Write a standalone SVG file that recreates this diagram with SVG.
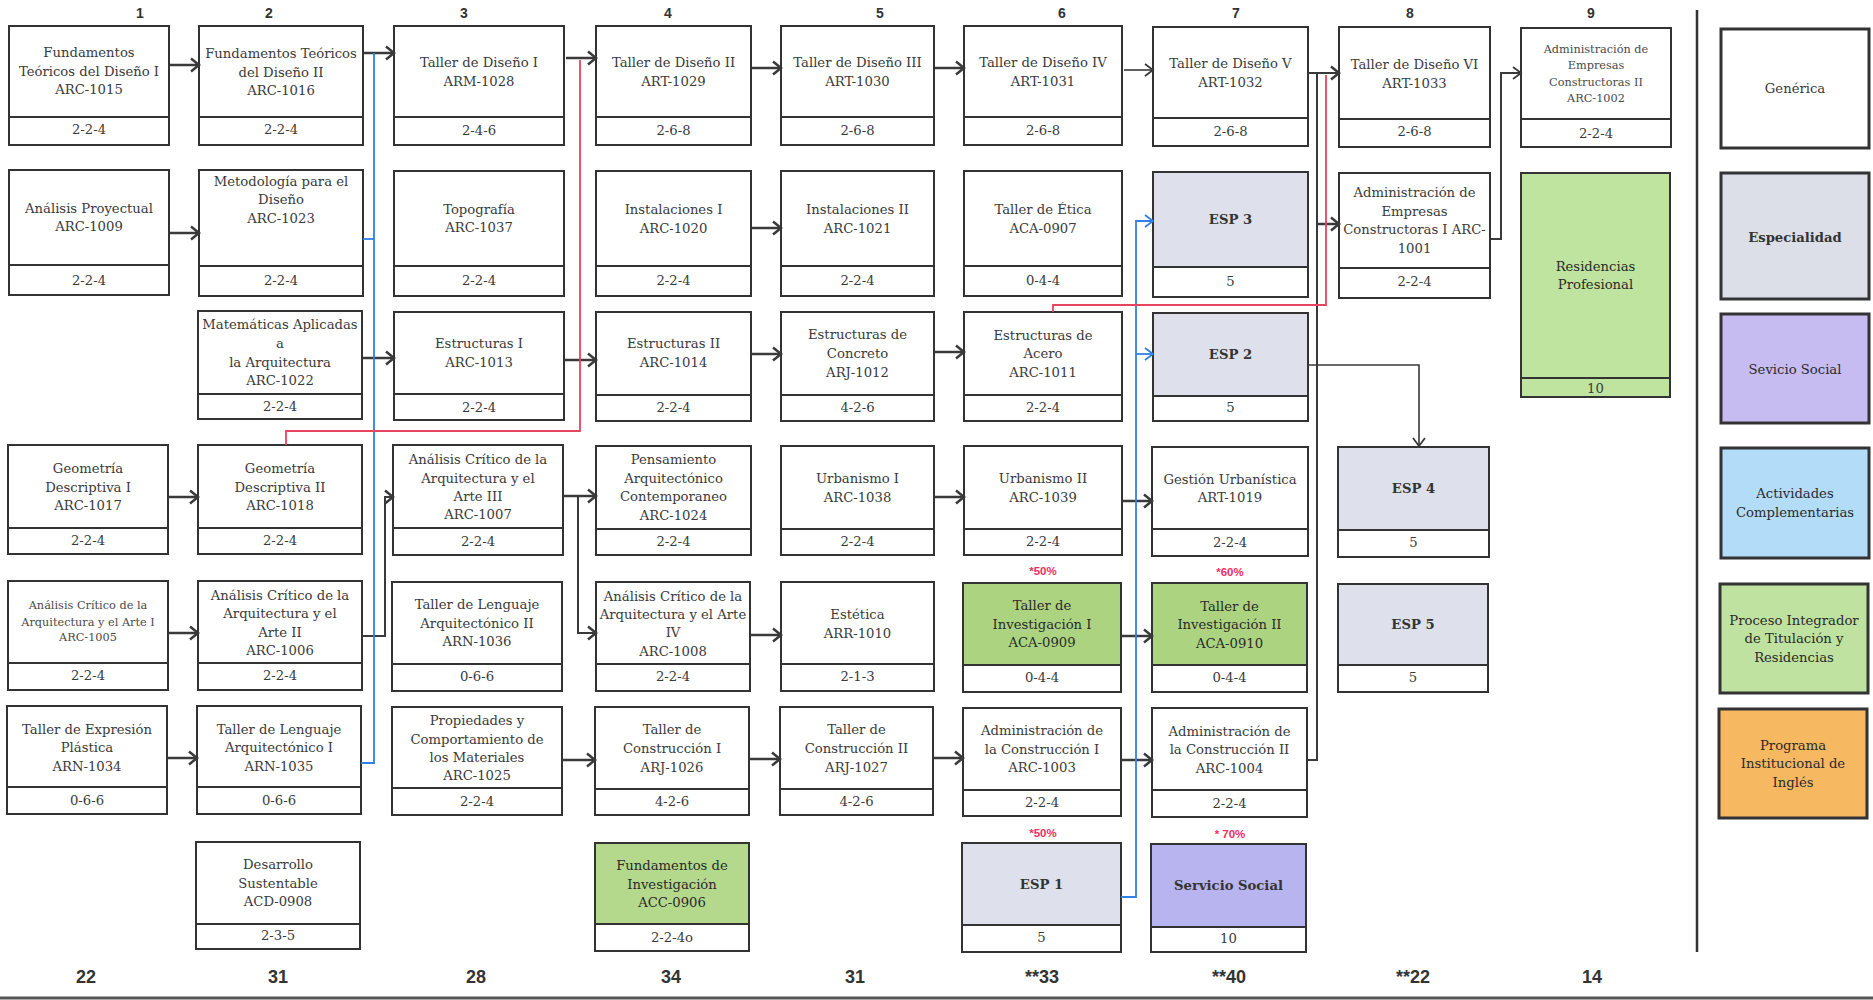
<svg xmlns="http://www.w3.org/2000/svg" width="1873" height="1000" viewBox="0 0 1873 1000">
<style>
.bx{fill:#fff;stroke:#333;stroke-width:2}
.dv{stroke:#333;stroke-width:2}
.t{font-family:"DejaVu Serif","Liberation Serif",serif;font-size:13.2px;fill:#3a3a3a;text-anchor:middle}
.s{font-size:11.3px;fill:#4a4a4a}
.b{font-weight:bold;fill:#333}
.dk{fill:#2a2a2a}
.hdr{font-family:"Liberation Sans",Arial,sans-serif;font-weight:bold;font-size:14px;fill:#333;text-anchor:middle}
.tot{font-family:"Liberation Sans",Arial,sans-serif;font-weight:bold;font-size:18px;fill:#333;text-anchor:middle}
.pct{font-family:"Liberation Sans",Arial,sans-serif;font-weight:bold;font-size:11.5px;fill:#ee2f62;text-anchor:middle}
.gray{fill:#dee0eb}
.green{fill:#acd480}
.green2{fill:#b4d88c}
.purple{fill:#b8b4ef}
.lg{stroke:#333;stroke-width:3}
.c{fill:none;stroke:#3a3a3a;stroke-width:2.5}
.m{fill:none;stroke:#3a3a3a;stroke-width:2}
.th{fill:none;stroke:#3a3a3a;stroke-width:1.6}
.blue{fill:none;stroke:#2f80e8;stroke-width:1.8}
.red{fill:none;stroke:#e8445e;stroke-width:1.8}
</style>
<defs>
<marker id="ah" markerWidth="12" markerHeight="16" refX="10" refY="8" orient="auto" markerUnits="userSpaceOnUse"><path d="M2,1.5 L10,8 L2,14.5" fill="none" stroke="#3a3a3a" stroke-width="2.5"/></marker>
<marker id="aht" markerWidth="12" markerHeight="16" refX="10" refY="8" orient="auto" markerUnits="userSpaceOnUse"><path d="M2,2 L10,8 L2,14" fill="none" stroke="#3a3a3a" stroke-width="1.8"/></marker>
<marker id="ahb" markerWidth="12" markerHeight="16" refX="10" refY="8" orient="auto" markerUnits="userSpaceOnUse"><path d="M2,2 L10,8 L2,14" fill="none" stroke="#2f80e8" stroke-width="1.8"/></marker>
</defs>
<rect width="1873" height="1000" fill="#fff"/>

<g id="headers">
<text class="hdr" x="140" y="18">1</text>
<text class="hdr" x="269" y="18">2</text>
<text class="hdr" x="464" y="18">3</text>
<text class="hdr" x="668" y="18">4</text>
<text class="hdr" x="880" y="18">5</text>
<text class="hdr" x="1062" y="18">6</text>
<text class="hdr" x="1236" y="18">7</text>
<text class="hdr" x="1410" y="18">8</text>
<text class="hdr" x="1591" y="18">9</text>
</g>

<g id="totals">
<text class="tot" x="86" y="983">22</text>
<text class="tot" x="278" y="983">31</text>
<text class="tot" x="476" y="983">28</text>
<text class="tot" x="671" y="983">34</text>
<text class="tot" x="855" y="983">31</text>
<text class="tot" x="1042" y="983">**33</text>
<text class="tot" x="1229" y="983">**40</text>
<text class="tot" x="1413" y="983">**22</text>
<text class="tot" x="1592" y="983">14</text>
</g>

<g id="frame">
<line x1="0" y1="998" x2="1873" y2="998" stroke="#555" stroke-width="3"/>
<line x1="1697" y1="10" x2="1697" y2="952" stroke="#333" stroke-width="2.5"/>
</g>

<g id="percentages">
<text class="pct" x="1043" y="575">*50%</text>
<text class="pct" x="1230" y="576">*60%</text>
<text class="pct" x="1043" y="837">*50%</text>
<text class="pct" x="1230" y="838">* 70%</text>
</g>

<!-- Row 1 -->
<g id="ARC-1015"><rect class="bx" x="9" y="26" width="160" height="119"/><line class="dv" x1="9" y1="117" x2="169" y2="117"/>
<text class="t"><tspan x="89" y="56.5">Fundamentos</tspan><tspan x="89" y="75.5">Teóricos del Diseño I</tspan><tspan x="89" y="93.5">ARC-1015</tspan></text><text class="t" x="89" y="134">2-2-4</text></g>
<g id="ARC-1016"><rect class="bx" x="199" y="26" width="164" height="119"/><line class="dv" x1="199" y1="117" x2="363" y2="117"/>
<text class="t"><tspan x="281" y="57.5">Fundamentos Teóricos</tspan><tspan x="281" y="76.5">del Diseño II</tspan><tspan x="281" y="94.5">ARC-1016</tspan></text><text class="t" x="281" y="134">2-2-4</text></g>
<g id="ARM-1028"><rect class="bx" x="394" y="26" width="170" height="119"/><line class="dv" x1="394" y1="117" x2="564" y2="117"/>
<text class="t"><tspan x="479" y="66.5">Taller de Diseño I</tspan><tspan x="479" y="85.5">ARM-1028</tspan></text><text class="t" x="479" y="134.5">2-4-6</text></g>
<g id="ART-1029"><rect class="bx" x="596" y="26" width="155" height="119"/><line class="dv" x1="596" y1="117" x2="751" y2="117"/>
<text class="t"><tspan x="673.5" y="66.5">Taller de Diseño II</tspan><tspan x="673.5" y="85.5">ART-1029</tspan></text><text class="t" x="673.5" y="134.5">2-6-8</text></g>
<g id="ART-1030"><rect class="bx" x="781" y="26" width="153" height="119"/><line class="dv" x1="781" y1="117" x2="934" y2="117"/>
<text class="t"><tspan x="857.5" y="66.5">Taller de Diseño III</tspan><tspan x="857.5" y="85.5">ART-1030</tspan></text><text class="t" x="857.5" y="134.5">2-6-8</text></g>
<g id="ART-1031"><rect class="bx" x="964" y="26" width="158" height="119"/><line class="dv" x1="964" y1="117" x2="1122" y2="117"/>
<text class="t"><tspan x="1043" y="66.5">Taller de Diseño IV</tspan><tspan x="1043" y="85.5">ART-1031</tspan></text><text class="t" x="1043" y="134.5">2-6-8</text></g>
<g id="ART-1032"><rect class="bx" x="1153" y="27" width="155" height="119"/><line class="dv" x1="1153" y1="118" x2="1308" y2="118"/>
<text class="t"><tspan x="1230.5" y="67.5">Taller de Diseño V</tspan><tspan x="1230.5" y="86.5">ART-1032</tspan></text><text class="t" x="1230.5" y="135.5">2-6-8</text></g>
<g id="ART-1033"><rect class="bx" x="1339" y="27" width="151" height="120"/><line class="dv" x1="1339" y1="119" x2="1490" y2="119"/>
<text class="t"><tspan x="1414.5" y="68.5">Taller de Diseño VI</tspan><tspan x="1414.5" y="87.5">ART-1033</tspan></text><text class="t" x="1414.5" y="136">2-6-8</text></g>
<g id="ARC-1002"><rect class="bx" x="1521" y="28" width="150" height="119"/><line class="dv" x1="1521" y1="119" x2="1671" y2="119"/>
<text class="t s"><tspan x="1596" y="53">Administración de</tspan><tspan x="1596" y="69">Empresas</tspan><tspan x="1596" y="86">Constructoras II</tspan><tspan x="1596" y="102">ARC-1002</tspan></text><text class="t" x="1596" y="137.5">2-2-4</text></g>

<!-- Row 2 -->
<g id="ARC-1009"><rect class="bx" x="9" y="170" width="160" height="125"/><line class="dv" x1="9" y1="265" x2="169" y2="265"/>
<text class="t"><tspan x="89" y="212.5">Análisis Proyectual</tspan><tspan x="89" y="230.5">ARC-1009</tspan></text><text class="t" x="89" y="284.5">2-2-4</text></g>
<g id="ARC-1023"><rect class="bx" x="199" y="170" width="164" height="126"/><line class="dv" x1="199" y1="266" x2="363" y2="266"/>
<text class="t"><tspan x="281" y="185.5">Metodología para el</tspan><tspan x="281" y="203.5">Diseño</tspan><tspan x="281" y="222.5">ARC-1023</tspan></text><text class="t" x="281" y="284.5">2-2-4</text></g>
<g id="ARC-1037"><rect class="bx" x="394" y="171" width="170" height="125"/><line class="dv" x1="394" y1="266" x2="564" y2="266"/>
<text class="t"><tspan x="479" y="213.5">Topografía</tspan><tspan x="479" y="231.5">ARC-1037</tspan></text><text class="t" x="479" y="284.5">2-2-4</text></g>
<g id="ARC-1020"><rect class="bx" x="596" y="171" width="155" height="125"/><line class="dv" x1="596" y1="266" x2="751" y2="266"/>
<text class="t"><tspan x="673.5" y="213.5">Instalaciones I</tspan><tspan x="673.5" y="232.5">ARC-1020</tspan></text><text class="t" x="673.5" y="284.5">2-2-4</text></g>
<g id="ARC-1021"><rect class="bx" x="781" y="171" width="153" height="125"/><line class="dv" x1="781" y1="266" x2="934" y2="266"/>
<text class="t"><tspan x="857.5" y="213.5">Instalaciones II</tspan><tspan x="857.5" y="232.5">ARC-1021</tspan></text><text class="t" x="857.5" y="284.5">2-2-4</text></g>
<g id="ACA-0907"><rect class="bx" x="964" y="171" width="158" height="125"/><line class="dv" x1="964" y1="266" x2="1122" y2="266"/>
<text class="t"><tspan x="1043" y="213.5">Taller de Ética</tspan><tspan x="1043" y="232.5">ACA-0907</tspan></text><text class="t" x="1043" y="285">0-4-4</text></g>
<g id="ESP3"><rect class="bx" x="1153" y="172" width="155" height="125"/><rect class="gray" x="1154" y="173" width="153" height="94"/><line class="dv" x1="1153" y1="267" x2="1308" y2="267"/>
<text class="t b" x="1230.5" y="223.5">ESP 3</text><text class="t" x="1230.5" y="285.5">5</text></g>
<g id="ARC-1001"><rect class="bx" x="1339" y="173" width="151" height="125"/><line class="dv" x1="1339" y1="268" x2="1490" y2="268"/>
<text class="t"><tspan x="1414.5" y="196.5">Administración de</tspan><tspan x="1414.5" y="215.5">Empresas</tspan><tspan x="1414.5" y="233.5">Constructoras I ARC-</tspan><tspan x="1414.5" y="252.5">1001</tspan></text><text class="t" x="1414.5" y="286">2-2-4</text></g>
<g id="Residencias"><rect x="1521" y="173" width="149" height="224" fill="#bfe4a0" stroke="#333" stroke-width="2"/><line class="dv" x1="1521" y1="378" x2="1670" y2="378"/>
<text class="t dk"><tspan x="1595.5" y="270.5">Residencias</tspan><tspan x="1595.5" y="288.5">Profesional</tspan></text><text class="t" x="1595.5" y="392.5">10</text></g>

<!-- Row 3 -->
<g id="ARC-1022"><rect class="bx" x="198" y="311" width="164" height="108"/><line class="dv" x1="198" y1="394" x2="362" y2="394"/>
<text class="t"><tspan x="280" y="328.5">Matemáticas Aplicadas</tspan><tspan x="280" y="347.5">a</tspan><tspan x="280" y="366.5">la Arquitectura</tspan><tspan x="280" y="384.5">ARC-1022</tspan></text><text class="t" x="280" y="410.5">2-2-4</text></g>
<g id="ARC-1013"><rect class="bx" x="394" y="312" width="170" height="108"/><line class="dv" x1="394" y1="394" x2="564" y2="394"/>
<text class="t"><tspan x="479" y="347.5">Estructuras I</tspan><tspan x="479" y="366.5">ARC-1013</tspan></text><text class="t" x="479" y="411.5">2-2-4</text></g>
<g id="ARC-1014"><rect class="bx" x="596" y="312" width="155" height="109"/><line class="dv" x1="596" y1="395" x2="751" y2="395"/>
<text class="t"><tspan x="673.5" y="347.5">Estructuras II</tspan><tspan x="673.5" y="366.5">ARC-1014</tspan></text><text class="t" x="673.5" y="411.5">2-2-4</text></g>
<g id="ARJ-1012"><rect class="bx" x="781" y="312" width="153" height="109"/><line class="dv" x1="781" y1="395" x2="934" y2="395"/>
<text class="t"><tspan x="857.5" y="338.5">Estructuras de</tspan><tspan x="857.5" y="357.5">Concreto</tspan><tspan x="857.5" y="376.5">ARJ-1012</tspan></text><text class="t" x="857.5" y="411.5">4-2-6</text></g>
<g id="ARC-1011"><rect class="bx" x="964" y="312" width="158" height="109"/><line class="dv" x1="964" y1="395" x2="1122" y2="395"/>
<text class="t"><tspan x="1043" y="339.5">Estructuras de</tspan><tspan x="1043" y="357.5">Acero</tspan><tspan x="1043" y="376.5">ARC-1011</tspan></text><text class="t" x="1043" y="411.5">2-2-4</text></g>
<g id="ESP2"><rect class="bx" x="1153" y="313" width="155" height="108"/><rect class="gray" x="1154" y="314" width="153" height="82"/><line class="dv" x1="1153" y1="396" x2="1308" y2="396"/>
<text class="t b" x="1230.5" y="358.5">ESP 2</text><text class="t" x="1230.5" y="411.5">5</text></g>

<!-- Row 4 -->
<g id="ARC-1017"><rect class="bx" x="8" y="445" width="160" height="109"/><line class="dv" x1="8" y1="528" x2="168" y2="528"/>
<text class="t"><tspan x="88" y="472.5">Geometría</tspan><tspan x="88" y="491.5">Descriptiva I</tspan><tspan x="88" y="509.5">ARC-1017</tspan></text><text class="t" x="88" y="544.5">2-2-4</text></g>
<g id="ARC-1018"><rect class="bx" x="198" y="445" width="164" height="109"/><line class="dv" x1="198" y1="528" x2="362" y2="528"/>
<text class="t"><tspan x="280" y="472.5">Geometría</tspan><tspan x="280" y="491.5">Descriptiva II</tspan><tspan x="280" y="509.5">ARC-1018</tspan></text><text class="t" x="280" y="544.5">2-2-4</text></g>
<g id="ARC-1007"><rect class="bx" x="393" y="445" width="170" height="110"/><line class="dv" x1="393" y1="528" x2="563" y2="528"/>
<text class="t"><tspan x="478" y="463.5">Análisis Crítico de la</tspan><tspan x="478" y="482.5">Arquitectura y el</tspan><tspan x="478" y="500.5">Arte III</tspan><tspan x="478" y="518.5">ARC-1007</tspan></text><text class="t" x="478" y="545.5">2-2-4</text></g>
<g id="ARC-1024"><rect class="bx" x="596" y="446" width="155" height="109"/><line class="dv" x1="596" y1="529" x2="751" y2="529"/>
<text class="t"><tspan x="673.5" y="463.5">Pensamiento</tspan><tspan x="673.5" y="482.5">Arquitectónico</tspan><tspan x="673.5" y="500.5">Contemporaneo</tspan><tspan x="673.5" y="519.5">ARC-1024</tspan></text><text class="t" x="673.5" y="545.5">2-2-4</text></g>
<g id="ARC-1038"><rect class="bx" x="781" y="446" width="153" height="109"/><line class="dv" x1="781" y1="529" x2="934" y2="529"/>
<text class="t"><tspan x="857.5" y="482.5">Urbanismo I</tspan><tspan x="857.5" y="501.5">ARC-1038</tspan></text><text class="t" x="857.5" y="545.5">2-2-4</text></g>
<g id="ARC-1039"><rect class="bx" x="964" y="446" width="158" height="109"/><line class="dv" x1="964" y1="529" x2="1122" y2="529"/>
<text class="t"><tspan x="1043" y="482.5">Urbanismo II</tspan><tspan x="1043" y="501.5">ARC-1039</tspan></text><text class="t" x="1043" y="545.5">2-2-4</text></g>
<g id="ART-1019"><rect class="bx" x="1152" y="447" width="156" height="109"/><line class="dv" x1="1152" y1="529" x2="1308" y2="529"/>
<text class="t"><tspan x="1230" y="483.5">Gestión Urbanística</tspan><tspan x="1230" y="501.5">ART-1019</tspan></text><text class="t" x="1230" y="546.5">2-2-4</text></g>
<g id="ESP4"><rect class="bx" x="1338" y="447" width="151" height="110"/><rect class="gray" x="1339" y="448" width="149" height="82"/><line class="dv" x1="1338" y1="530" x2="1489" y2="530"/>
<text class="t b" x="1413.5" y="492.5">ESP 4</text><text class="t" x="1413.5" y="546.5">5</text></g>

<!-- Row 5 -->
<g id="ARC-1005"><rect class="bx" x="8" y="581" width="160" height="109"/><line class="dv" x1="8" y1="663" x2="168" y2="663"/>
<text class="t s"><tspan x="88" y="609">Análisis Crítico de la</tspan><tspan x="88" y="626">Arquitectura y el Arte I</tspan><tspan x="88" y="641">ARC-1005</tspan></text><text class="t" x="88" y="679.5">2-2-4</text></g>
<g id="ARC-1006"><rect class="bx" x="198" y="581" width="164" height="109"/><line class="dv" x1="198" y1="663" x2="362" y2="663"/>
<text class="t"><tspan x="280" y="599.5">Análisis Crítico de la</tspan><tspan x="280" y="617.5">Arquitectura y el</tspan><tspan x="280" y="636.5">Arte II</tspan><tspan x="280" y="654.5">ARC-1006</tspan></text><text class="t" x="280" y="679.5">2-2-4</text></g>
<g id="ARN-1036"><rect class="bx" x="392" y="582" width="170" height="109"/><line class="dv" x1="392" y1="664" x2="562" y2="664"/>
<text class="t"><tspan x="477" y="608.5">Taller de Lenguaje</tspan><tspan x="477" y="627.5">Arquitectónico II</tspan><tspan x="477" y="645.5">ARN-1036</tspan></text><text class="t" x="477" y="680.5">0-6-6</text></g>
<g id="ARC-1008"><rect class="bx" x="596" y="582" width="154" height="109"/><line class="dv" x1="596" y1="664" x2="750" y2="664"/>
<text class="t"><tspan x="673" y="600.5">Análisis Crítico de la</tspan><tspan x="673" y="618.5">Arquitectura y el Arte</tspan><tspan x="673" y="636.5">IV</tspan><tspan x="673" y="655.5">ARC-1008</tspan></text><text class="t" x="673" y="680.5">2-2-4</text></g>
<g id="ARR-1010"><rect class="bx" x="781" y="582" width="153" height="109"/><line class="dv" x1="781" y1="664" x2="934" y2="664"/>
<text class="t"><tspan x="857.5" y="618.5">Estética</tspan><tspan x="857.5" y="637.5">ARR-1010</tspan></text><text class="t" x="857.5" y="681">2-1-3</text></g>
<g id="ACA-0909"><rect class="bx" x="963" y="583" width="158" height="109"/><rect class="green" x="964" y="584" width="156" height="81"/><line class="dv" x1="963" y1="665" x2="1121" y2="665"/>
<text class="t dk"><tspan x="1042" y="609.5">Taller de</tspan><tspan x="1042" y="628.5">Investigación I</tspan><tspan x="1042" y="646.5">ACA-0909</tspan></text><text class="t" x="1042" y="681.5">0-4-4</text></g>
<g id="ACA-0910"><rect class="bx" x="1152" y="583" width="155" height="109"/><rect class="green" x="1153" y="584" width="153" height="81"/><line class="dv" x1="1152" y1="665" x2="1307" y2="665"/>
<text class="t dk"><tspan x="1229.5" y="610.5">Taller de</tspan><tspan x="1229.5" y="628.5">Investigación II</tspan><tspan x="1229.5" y="647.5">ACA-0910</tspan></text><text class="t" x="1229.5" y="681.5">0-4-4</text></g>
<g id="ESP5"><rect class="bx" x="1338" y="584" width="150" height="108"/><rect class="gray" x="1339" y="585" width="148" height="80"/><line class="dv" x1="1338" y1="665" x2="1488" y2="665"/>
<text class="t b" x="1413" y="628.5">ESP 5</text><text class="t" x="1413" y="681.5">5</text></g>

<!-- Row 6 -->
<g id="ARN-1034"><rect class="bx" x="7" y="706" width="160" height="108"/><line class="dv" x1="7" y1="787" x2="167" y2="787"/>
<text class="t"><tspan x="87" y="733.5">Taller de Expresión</tspan><tspan x="87" y="751.5">Plástica</tspan><tspan x="87" y="770.5">ARN-1034</tspan></text><text class="t" x="87" y="804.5">0-6-6</text></g>
<g id="ARN-1035"><rect class="bx" x="197" y="706" width="164" height="108"/><line class="dv" x1="197" y1="787" x2="361" y2="787"/>
<text class="t"><tspan x="279" y="733.5">Taller de Lenguaje</tspan><tspan x="279" y="751.5">Arquitectónico I</tspan><tspan x="279" y="770.5">ARN-1035</tspan></text><text class="t" x="279" y="804.5">0-6-6</text></g>
<g id="ARC-1025"><rect class="bx" x="392" y="707" width="170" height="108"/><line class="dv" x1="392" y1="788" x2="562" y2="788"/>
<text class="t"><tspan x="477" y="724.5">Propiedades y</tspan><tspan x="477" y="743.5">Comportamiento de</tspan><tspan x="477" y="761.5">los Materiales</tspan><tspan x="477" y="779.5">ARC-1025</tspan></text><text class="t" x="477" y="805.5">2-2-4</text></g>
<g id="ARJ-1026"><rect class="bx" x="595" y="707" width="154" height="108"/><line class="dv" x1="595" y1="789" x2="749" y2="789"/>
<text class="t"><tspan x="672" y="733.5">Taller de</tspan><tspan x="672" y="752.5">Construcción I</tspan><tspan x="672" y="771.5">ARJ-1026</tspan></text><text class="t" x="672" y="805.5">4-2-6</text></g>
<g id="ARJ-1027"><rect class="bx" x="780" y="707" width="153" height="108"/><line class="dv" x1="780" y1="789" x2="933" y2="789"/>
<text class="t"><tspan x="856.5" y="733.5">Taller de</tspan><tspan x="856.5" y="752.5">Construcción II</tspan><tspan x="856.5" y="771.5">ARJ-1027</tspan></text><text class="t" x="856.5" y="805.5">4-2-6</text></g>
<g id="ARC-1003"><rect class="bx" x="963" y="708" width="158" height="108"/><line class="dv" x1="963" y1="790" x2="1121" y2="790"/>
<text class="t"><tspan x="1042" y="734.5">Administración de</tspan><tspan x="1042" y="753.5">la Construcción I</tspan><tspan x="1042" y="771.5">ARC-1003</tspan></text><text class="t" x="1042" y="806.5">2-2-4</text></g>
<g id="ARC-1004"><rect class="bx" x="1152" y="708" width="155" height="109"/><line class="dv" x1="1152" y1="790" x2="1307" y2="790"/>
<text class="t"><tspan x="1229.5" y="735.5">Administración de</tspan><tspan x="1229.5" y="753.5">la Construcción II</tspan><tspan x="1229.5" y="772.5">ARC-1004</tspan></text><text class="t" x="1229.5" y="807.5">2-2-4</text></g>

<!-- Row 7 -->
<g id="ACD-0908"><rect class="bx" x="196" y="842" width="164" height="107"/><line class="dv" x1="196" y1="924" x2="360" y2="924"/>
<text class="t"><tspan x="278" y="868.5">Desarrollo</tspan><tspan x="278" y="887.5">Sustentable</tspan><tspan x="278" y="905.5">ACD-0908</tspan></text><text class="t" x="278" y="939.5">2-3-5</text></g>
<g id="ACC-0906"><rect class="bx" x="595" y="843" width="154" height="108"/><rect class="green2" x="596" y="844" width="152" height="80"/><line class="dv" x1="595" y1="924" x2="749" y2="924"/>
<text class="t dk"><tspan x="672" y="869.5">Fundamentos de</tspan><tspan x="672" y="888.5">Investigación</tspan><tspan x="672" y="906.5">ACC-0906</tspan></text><text class="t" x="672" y="941.5">2-2-4o</text></g>
<g id="ESP1"><rect class="bx" x="962" y="843" width="159" height="109"/><rect class="gray" x="963" y="844" width="157" height="81"/><line class="dv" x1="962" y1="925" x2="1121" y2="925"/>
<text class="t b" x="1041.5" y="888.5">ESP 1</text><text class="t" x="1041.5" y="941.5">5</text></g>
<g id="ServicioSocial"><rect class="bx" x="1151" y="844" width="155" height="108"/><rect class="purple" x="1152" y="845" width="153" height="82"/><line class="dv" x1="1151" y1="927" x2="1306" y2="927"/>
<text class="t b" x="1228.5" y="889.5">Servicio Social</text><text class="t" x="1228.5" y="942.5">10</text></g>

<!-- Legend -->
<g id="legend-generica"><rect x="1721" y="29" width="148" height="119" fill="#fff" class="lg"/><text class="t" x="1795" y="92.5">Genérica</text></g>
<g id="legend-especialidad"><rect x="1721" y="173" width="148" height="126" fill="#dcdfe8" class="lg"/><text class="t b" x="1795" y="241.5">Especialidad</text></g>
<g id="legend-servicio"><rect x="1721" y="314" width="148" height="109" fill="#c7bcf2" class="lg"/><text class="t dk" x="1795" y="373.5">Sevicio Social</text></g>
<g id="legend-actividades"><rect x="1721" y="448" width="148" height="110" fill="#b3dcf8" class="lg"/><text class="t dk"><tspan x="1795" y="497.5">Actividades</tspan><tspan x="1795" y="516.5">Complementarias</tspan></text></g>
<g id="legend-proceso"><rect x="1720" y="584" width="148" height="109" fill="#bfe2a0" class="lg"/><text class="t dk"><tspan x="1794" y="624.5">Proceso Integrador</tspan><tspan x="1794" y="642.5">de Titulación y</tspan><tspan x="1794" y="661.5">Residencias</tspan></text></g>
<g id="legend-ingles"><rect x="1719" y="709" width="148" height="109" fill="#f6b860" class="lg"/><text class="t dk"><tspan x="1793" y="749.5">Programa</tspan><tspan x="1793" y="767.5">Institucional de</tspan><tspan x="1793" y="786.5">Inglés</tspan></text></g>

<g id="connectors">
<path class="c" marker-end="url(#ah)" d="M170,65 H199"/>
<path class="c" marker-end="url(#ah)" d="M364,53 H394"/>
<path class="c" marker-end="url(#ah)" d="M566,58 H596"/>
<path class="c" marker-end="url(#ah)" d="M752,68 H781"/>
<path class="c" marker-end="url(#ah)" d="M935,68 H964"/>
<path class="th" marker-end="url(#aht)" d="M1124,70 H1153"/>
<path class="m" marker-end="url(#ah)" d="M1308,73 H1339"/>
<path class="m" marker-end="url(#aht)" d="M1491,239 H1501 V73 H1521"/>
<path class="c" marker-end="url(#ah)" d="M169,233 H199"/>
<path class="c" marker-end="url(#ah)" d="M752,228 H781"/>
<path class="m" d="M1307,760 H1317 V73"/>
<path class="c" marker-end="url(#ah)" d="M1317,224 H1339"/>
<path class="c" marker-end="url(#ah)" d="M363,358 H394"/>
<path class="c" marker-end="url(#ah)" d="M564,360 H596"/>
<path class="c" marker-end="url(#ah)" d="M751,354 H781"/>
<path class="c" marker-end="url(#ah)" d="M934,352 H964"/>
<path class="c" marker-end="url(#ah)" d="M168,497 H198"/>
<path class="m" marker-end="url(#ah)" d="M362,636 H385 V497 H393"/>
<path class="c" marker-end="url(#ah)" d="M563,496 H596"/>
<path class="m" marker-end="url(#ah)" d="M578,496 V633 H596"/>
<path class="c" marker-end="url(#ah)" d="M934,497 H964"/>
<path class="c" marker-end="url(#ah)" d="M1122,501 H1152"/>
<path class="th" marker-end="url(#aht)" d="M1308,365 H1419 V446"/>
<path class="c" marker-end="url(#ah)" d="M168,633 H198"/>
<path class="c" marker-end="url(#ah)" d="M750,635 H781"/>
<path class="c" marker-end="url(#ah)" d="M1121,636 H1152"/>
<path class="c" marker-end="url(#ah)" d="M167,758 H197"/>
<path class="c" marker-end="url(#ah)" d="M562,760 H595"/>
<path class="c" marker-end="url(#ah)" d="M749,759 H780"/>
<path class="c" marker-end="url(#ah)" d="M933,758 H963"/>
<path class="c" marker-end="url(#ah)" d="M1121,760 H1152"/>
<path class="blue" d="M361,763 H374 V53"/>
<path class="blue" d="M363,239 H374"/>
<path class="blue" marker-end="url(#ahb)" d="M1121,897 H1136 V221 H1153"/>
<path class="blue" marker-end="url(#ahb)" d="M1136,354 H1153"/>
<path class="red" d="M580,60 V431 H286 V445"/>
<path class="red" d="M1053,312 V305 H1326 V75"/>
</g>
</svg>
